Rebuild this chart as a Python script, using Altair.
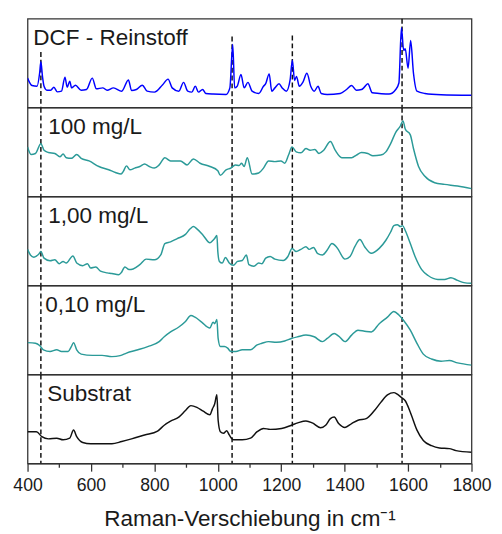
import altair as alt
import pandas as pd

# ---------------- data (wavenumber in cm^-1, intensity in % of panel height) -------------
wn_dcf = [400, 414, 430, 438, 442, 447, 452, 461, 473, 483, 494, 507, 518, 525, 533, 539, 551, 569, 586, 604,
          617, 637, 651, 671, 697, 718, 728, 743, 762, 777, 800, 826, 843, 856, 877, 892, 905, 918, 929, 939,
          952, 962, 985, 1026, 1038, 1047, 1053, 1061, 1073, 1083, 1095, 1108, 1129, 1144, 1151, 1162, 1170,
          1180, 1193, 1203, 1216, 1228, 1235, 1242, 1248, 1257, 1268, 1281, 1293, 1304, 1316, 1326, 1345,
          1386, 1406, 1422, 1437, 1453, 1460, 1473, 1487, 1509, 1540, 1561, 1571, 1579, 1586, 1591, 1600,
          1608, 1617, 1628, 1653, 1704, 1800]
int_dcf = [33, 24.6, 23.8, 38.5, 51.4, 35, 23.8, 19.4, 19.4, 22.7, 17.5, 18.3, 34, 22.7, 29.4, 22, 25, 19.4, 20.2, 33,
           20.9, 22, 19.4, 22, 18.3, 31, 19, 20.2, 25, 18.3, 17.2, 25.6, 31.9, 22, 18.3, 28.2, 18.3, 17.2, 23.8, 17.2,
           20.2, 15.7, 15, 14.6, 22, 71, 22, 23.8, 37, 22, 28.2, 18.3, 15.7, 23.8, 26.7, 37.8, 18.3,
           22, 26.7, 22, 18.3, 31, 53.3, 30.4, 35, 23.8, 28.2, 38.5, 23.8, 18.3, 23.8, 15.7, 14.6,
           15.7, 20.2, 24.6, 19.4, 20.2, 22, 26.7, 16.4, 15.7, 15, 20.2, 27.5, 90, 64.3, 66.2, 44.2,
           75.4, 38.5, 18.3, 15.7, 14.2, 13.6]

wn_100 = [400, 411, 425, 442, 452, 466, 486, 502, 512, 522, 538, 555, 569, 594, 625, 656, 677, 695, 702, 712,
          723, 738, 754, 769, 784, 800, 815, 833, 851, 882, 903, 923, 944, 975, 1000, 1008, 1026, 1041, 1055,
          1067, 1075, 1083, 1093, 1108, 1129, 1144, 1160, 1180, 1199, 1211, 1223, 1234, 1247, 1262, 1278,
          1291, 1306, 1319, 1334, 1355, 1370, 1391, 1422, 1437, 1453, 1473, 1489, 1514, 1530, 1545, 1561,
          1576, 1584, 1591, 1607, 1617, 1633, 1653, 1684, 1715, 1756, 1800]
int_100 = [55.7, 47.3, 48.4, 59.5, 52, 49.5, 48.4, 44.7, 47.7, 43.6, 42.9, 47.3, 42.9, 40, 33.7, 30, 27, 25.2, 28.2, 34.4,
           30, 31.9, 33.7, 36.6, 33.7, 31.9, 35.5, 43.6, 40, 40, 35.5, 42.2, 37.4, 33.7, 28.9, 23.7, 30, 31.9, 35.5,
           34.8, 37.4, 33.7, 43.6, 25.2, 26.4, 31.9, 40, 39.2, 40, 37.4, 46.6, 55.7, 50.2, 49.1, 54,
           52.1, 52.9, 48.4, 52.1, 62, 52.1, 43.6, 43.6, 46.6, 49.5, 48.4, 45.8, 46.6, 50.2, 59.5, 72.3,
           79.7, 85.2, 76, 69.4, 54, 33.7, 22.6, 15.3, 13.5, 11.6, 8.7]

wn_1 = [400, 409, 420, 435, 442, 452, 471, 486, 500, 512, 522, 543, 555, 574, 589, 599, 615, 630, 651, 666,
        687, 695, 707, 720, 733, 754, 774, 800, 820, 833, 851, 872, 898, 913, 923, 934, 954, 975, 985, 990,
        997, 1000, 1005, 1014, 1024, 1036, 1049, 1062, 1077, 1090, 1098, 1113, 1129, 1139, 1151, 1165, 1180,
        1206, 1221, 1234, 1247, 1262, 1278, 1288, 1302, 1314, 1330, 1345, 1360, 1376, 1401, 1417, 1432,
        1448, 1463, 1484, 1509, 1530, 1545, 1555, 1566, 1576, 1583, 1591, 1607, 1622, 1643, 1663, 1694,
        1715, 1735, 1756, 1776, 1800]
int_1 = [40.6, 34.3, 31.8, 35.1, 38.1, 30.7, 27.7, 28.8, 24.4, 27, 25.2, 33.2, 25.2, 22.2, 24.4, 19.6, 20.8, 16, 14.1, 13.4,
         11.9, 14.1, 20.8, 17.8, 18.5, 23.3, 29.6, 28.8, 34.3, 47.2, 49.1, 52.8, 57.5, 63.8, 66.3, 63.8, 56.4, 48, 50.9, 52.8,
         56.4, 38.1, 27, 25.2, 31.5, 25.2, 22.6, 27, 28.1, 34.3, 23.3, 21.5, 25.2, 24.4, 30.7, 32.6, 29.6,
         28.1, 32.6, 41.7, 38.1, 40.6, 43.6, 40.6, 42.8, 36.2, 34.3, 39.8, 47.2, 42.5, 29.6, 32.6, 43.6,
         51.7, 43.6, 36.2, 41.7, 50.9, 60.2, 67.4, 68.5, 66.3, 67.4, 61.9, 47.2, 32.6, 17.8, 11.1, 6.7,
         6.7, 8.6, 5.6, 3.1, 2.3]

wn_01 = [400, 425, 438, 450, 471, 492, 507, 528, 538, 545, 555, 569, 605, 635, 666, 692, 712, 748, 779, 815,
         831, 851, 877, 898, 915, 928, 949, 975, 985, 990, 997, 1001, 1008, 1021, 1031, 1041, 1057, 1077,
         1103, 1124, 1139, 1160, 1185, 1211, 1232, 1252, 1278, 1304, 1330, 1345, 1367, 1381, 1401, 1422,
         1442, 1463, 1484, 1509, 1535, 1555, 1571, 1586, 1607, 1628, 1648, 1674, 1704, 1730, 1756, 1800]
int_01 = [35.8, 35, 32.5, 27.7, 25.8, 27.7, 25.8, 25.8, 31.3, 35.8, 27.7, 22.8, 21.4, 21.4, 20, 21.1, 24, 27.7, 31.3, 36.9,
          42.4, 47.9, 53.4, 59.7, 66.3, 64.5, 58.9, 52.3, 58.9, 57.1, 61.9, 40.5, 31.3, 31.3, 29.5, 25.8, 25.8, 27.7,
          27.7, 33.2, 35, 36.9, 36.1, 37.6, 40.5, 42.4, 44.3, 42.4, 36.9, 40.5, 46, 43.2, 36.9, 44.3,
          49.8, 48.7, 47.9, 57.1, 64.5, 70.8, 67, 60.8, 49.8, 35, 22.8, 17.3, 14.8, 15.6, 12.9, 10.4]

wn_sub = [400, 428, 445, 466, 492, 512, 533, 545, 555, 574, 599, 630, 666, 697, 728, 769, 810, 831, 851, 877,
          898, 915, 934, 954, 975, 983, 990, 997, 1001, 1008, 1018, 1028, 1036, 1049, 1077, 1103, 1124, 1144,
          1165, 1201, 1232, 1252, 1278, 1298, 1324, 1340, 1355, 1367, 1381, 1401, 1422, 1442, 1468, 1494,
          1514, 1535, 1555, 1566, 1579, 1591, 1607, 1628, 1648, 1674, 1699, 1730, 1751, 1800]
int_sub = [35.7, 35.7, 30.1, 27.6, 28.4, 26.5, 28.4, 37.5, 30.1, 23.5, 22.1, 22.1, 22.1, 24.6, 27.6, 32, 36.4, 43, 47.5, 52.2,
           59.6, 65.1, 63.2, 58.8, 54.8, 61.5, 67, 77.3, 48.6, 35.7, 33.9, 36.8, 32, 26.5, 26.5, 28.4, 35.7, 39.4,
           38.3, 39.4, 43, 45.6, 47.8, 45.6, 40.1, 43, 50.4, 52.2, 44.9, 40.5, 44.9, 48.6, 50.4, 59.6,
           68.8, 77.3, 79.8, 78, 74.3, 70.6, 57.7, 37.5, 25.7, 19.9, 17.3, 16.6, 14.3, 12.5]

panel_names = ["DCF - Reinstoff", "100 mg/L", "1,00 mg/L", "0,10 mg/L", "Substrat"]
panel_label_wn = [418, 465, 465, 456, 462]
panel_colors = ["#0000ff", "#2b9a98", "#2b9a98", "#2b9a98", "#111111"]

marker_wn = [442, 1045, 1235, 1581]
marker_top_dcf = [62.5, 80, 81, 100]   # where the dashed markers start in the top panel

tick_values = list(range(400, 1801, 100))

# ---------------- chart ----------------
FONT = "Liberation Sans"
W = 454
H = 90.6

xscale = alt.Scale(domain=[400, 1800], nice=False, zero=False)
yscale = alt.Scale(domain=[0, 100], nice=False, zero=False)

bottom_axis = alt.Axis(
    values=tick_values,
    labelExpr="datum.value % 200 == 0 ? datum.label : ''",
    format="d",
    tickSize={"condition": {"test": "datum.value % 200 != 0", "value": 4}, "value": 8},
    tickWidth=1.3,
    tickColor="#333333",
    domainColor="#333333",
    domainWidth=1.3,
    labelFont=FONT,
    labelFontSize=18,
    labelColor="#1a1a1a",
    labelPadding=6,
    labelFlush=False,
    labelOverlap=False,
    grid=False,
    title="Raman-Verschiebung in cm⁻¹",
    titleFont=FONT,
    titleFontSize=23,
    titleFontWeight="normal",
    titleColor="#1a1a1a",
    titlePadding=14,
)

series = [(wn_dcf, int_dcf), (wn_100, int_100), (wn_1, int_1), (wn_01, int_01), (wn_sub, int_sub)]

panels = []
for i, (wn, inten) in enumerate(series):
    is_bottom = i == len(series) - 1
    xaxis = bottom_axis if is_bottom else None
    df = pd.DataFrame({"wn": wn, "I": inten})
    mdf = pd.DataFrame({"wn": marker_wn, "top": marker_top_dcf})

    x_enc = alt.X("wn:Q", scale=xscale, axis=xaxis)

    if i == 0:
        rules = alt.Chart(mdf).mark_rule(strokeDash=[5, 3], strokeWidth=1.5, color="#111111").encode(
            x=x_enc,
            y=alt.Y("top:Q", scale=yscale, axis=None),
            y2=alt.value(H),
        )
    else:
        rules = alt.Chart(mdf).mark_rule(strokeDash=[5, 3], strokeWidth=1.5, color="#111111").encode(
            x=x_enc,
        )

    line = alt.Chart(df).mark_line(color=panel_colors[i], strokeWidth=1.5, interpolate="monotone",
                                   clip=True).encode(
        x=x_enc,
        y=alt.Y("I:Q", scale=yscale, axis=None),
    )

    ldf = pd.DataFrame({"wn": [panel_label_wn[i]], "I": [78], "t": [panel_names[i]]})
    label = alt.Chart(ldf).mark_text(
        align="left", baseline="middle", font=FONT, fontSize=23, color="#1a1a1a"
    ).encode(
        x=x_enc,
        y=alt.Y("I:Q", scale=yscale, axis=None),
        text="t:N",
    )

    panels.append(alt.layer(rules, line, label).properties(width=W, height=H))

chart = alt.vconcat(*panels, spacing=0, bounds="flush").properties(
    padding={"left": 4, "top": 3, "right": 2, "bottom": 2},
    background="white",
).configure_view(
    stroke="#333333", strokeWidth=1.3
).configure_axis(grid=False)

chart.save("out.html", embed_options={"renderer": "svg", "actions": False})
